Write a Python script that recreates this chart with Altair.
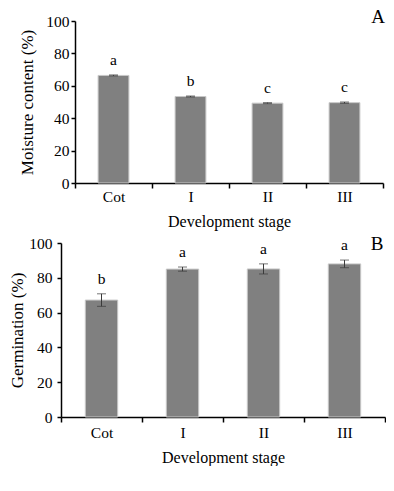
import altair as alt
import pandas as pd

stages = ["Cot", "I", "II", "III"]

moisture_mean = [66.4, 53.4, 49.3, 49.6]
moisture_err = [0.3, 0.3, 0.3, 0.4]
moisture_letters = ["a", "b", "c", "c"]

germ_mean = [67.2, 85.0, 85.1, 88.0]
germ_err = [3.6, 1.2, 2.9, 2.2]
germ_letters = ["b", "a", "a", "a"]

panel_labels = ["A", "B"]
y_ticks = [0, 20, 40, 60, 80, 100]

FONT = "Liberation Serif"
BAR_FILL = "#808080"
BAR_EDGE = "#c8c8c8"
ERR_COLOR = "#3a3a3a"


def panel(mean, err, letters, ytitle, label, width, height, inset, ylabpad,
          ytitle_x, xlabpad, xtitlepad, label_x, label_y):
    df = pd.DataFrame({
        "stage": stages,
        "mean": mean,
        "lo": [m - e for m, e in zip(mean, err)],
        "hi": [m + e for m, e in zip(mean, err)],
        "letter": letters,
    })
    xaxis = alt.Axis(title="Development stage", labelAngle=0,
                     tickBand="extent", tickSize=5, tickWidth=1.5,
                     labelPadding=xlabpad, titlePadding=xtitlepad,
                     domainWidth=1.5)
    xscale = alt.Scale(paddingInner=0, paddingOuter=0, range=[inset, width])
    x = alt.X("stage:N", sort=stages, scale=xscale, axis=xaxis)
    yscale = alt.Scale(domain=[0, 100], nice=False)
    yaxis = alt.Axis(title=ytitle, values=y_ticks, tickSize=4, offset=-inset,
                     tickWidth=1.5, labelPadding=ylabpad, labelOverlap=False,
                     titleFontSize=17, titleX=ytitle_x, titleBaseline="bottom",
                     domainWidth=1.5)

    def Y(field):
        return alt.Y(field, type="quantitative", scale=yscale, axis=yaxis)

    base = alt.Chart(df)
    bars = base.mark_bar(width=alt.RelativeBandSize(0.4), color=BAR_FILL,
                         stroke=BAR_EDGE, strokeWidth=1).encode(x=x, y=Y("mean"))
    rule = base.mark_rule(color=ERR_COLOR, strokeWidth=1).encode(
        x=x, y=Y("lo"), y2="hi:Q")
    cap_hi = base.mark_tick(color=ERR_COLOR, size=9, thickness=1).encode(
        x=x, y=Y("hi"))
    cap_lo = base.mark_tick(color=ERR_COLOR, size=9, thickness=1).encode(
        x=x, y=Y("lo"))
    text = base.mark_text(font=FONT, fontSize=15.5, color="black",
                          baseline="middle", dy=-15).encode(
        x=x, y=Y("hi"), text="letter:N")
    lab = alt.Chart(pd.DataFrame({"t": [label]})).mark_text(
        font=FONT, fontSize=19, color="black", align="center",
        baseline="alphabetic").encode(
        text="t:N", x=alt.value(label_x), y=alt.value(label_y))
    return alt.layer(bars, rule, cap_hi, cap_lo, text, lab).properties(
        width=width, height=height)


# Both panels share the same left origin in the stacked layout; panel A's
# plotting range starts 14 px further right, as in the original figure.
chart_a = panel(moisture_mean, moisture_err, moisture_letters,
                "Moisture content (%)", panel_labels[0], 322, 162, 14,
                2, -39, 1, 9, 317, 2)
chart_b = panel(germ_mean, germ_err, germ_letters,
                "Germination (%)", panel_labels[1], 324, 174, 0,
                5, -35, 3, 9, 316, 7)

chart = alt.vconcat(chart_a, chart_b, spacing=5).properties(
    padding={"left": 0, "top": 0, "right": 0, "bottom": 0}
).configure(font=FONT).configure_view(stroke=None).configure_axis(
    grid=False, domainColor="black", tickColor="black", labelColor="black",
    titleColor="black", titleFontWeight="normal", labelFontSize=15.5,
    titleFontSize=16, labelFont=FONT, titleFont=FONT)

chart.save("out.html", embed_options={"renderer": "svg", "actions": False})
